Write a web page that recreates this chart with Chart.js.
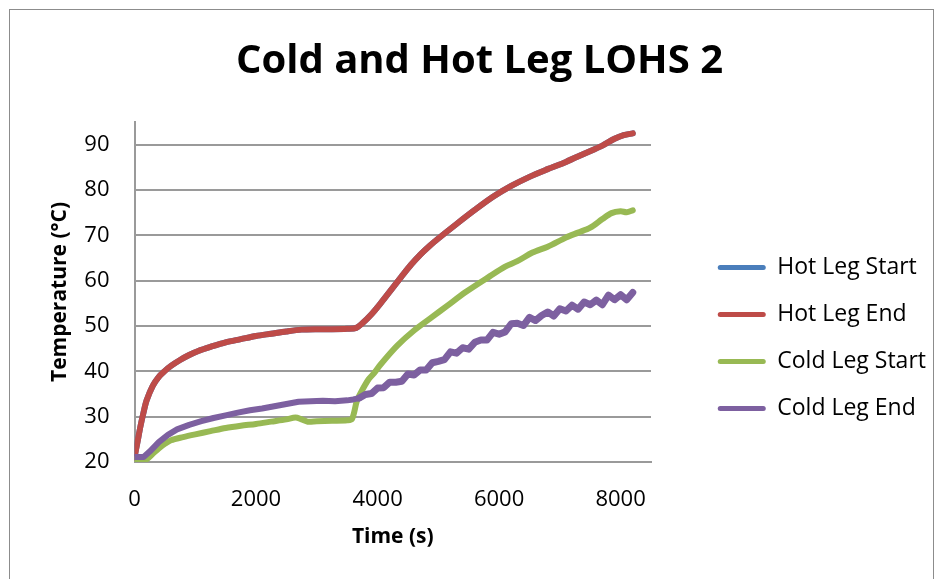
<!DOCTYPE html>
<html>
<head>
<meta charset="utf-8">
<script src="https://cdn.jsdelivr.net/npm/chart.js@4"></script>
<style>
  html, body { margin: 0; padding: 0; background: #fff; overflow: hidden; }
  #frame { position: absolute; left: 9px; top: 9px; width: 923px; height: 640px; border: 1px solid #8c8c8c; }
  #chart { position: absolute; left: 0; top: 0; }
</style>
</head>
<body>
<div id="frame"></div>
<canvas id="chart" width="941" height="579"></canvas>
<script>
// Series names and colours (Excel 2007 palette)
const seriesNames = ['Hot Leg Start', 'Hot Leg End', 'Cold Leg Start', 'Cold Leg End'];
const seriesColors = ['#4a7ebb', '#be4b48', '#98b954', '#7d60a0'];

// Hot leg end (red) - time (s) / temperature (°C)
const hotEndTime = [0, 50, 100, 150, 200, 300, 400, 500, 600, 750, 900, 1050, 1250, 1500, 1750, 2000,
  2250, 2500, 2750, 3000, 3250, 3500, 3650, 3750, 3900, 4050, 4400, 4550, 4700, 4850, 5000, 5300, 5600, 5900,
  6200, 6500, 6800, 7100, 7400, 7700, 7900, 8050, 8200];
const hotEndTemp = [21.0, 24.5, 28.0, 31.0, 33.6, 36.8, 38.8, 40.1, 41.2, 42.5, 43.6, 44.5, 45.4, 46.4, 47.1, 47.8,
  48.3, 48.8, 49.2, 49.3, 49.3, 49.4, 49.6, 50.6, 52.6, 55.0, 61.0, 63.5, 65.7, 67.6, 69.3, 72.5, 75.6, 78.5,
  80.9, 82.9, 84.6, 86.2, 88.0, 89.8, 91.3, 92.1, 92.5];

// Hot leg start (blue) - lies under the red trace
const hotStartTime = [0, 50, 100, 150, 200, 300, 400, 500, 600, 750, 900, 1050, 1250, 1500, 1750, 2000,
  2250, 2500, 2750, 3000, 3250, 3500, 3650, 3750, 3900, 4050, 4400, 4550, 4700, 4850, 5000, 5300, 5600, 5900,
  6200, 6500, 6800, 7100, 7400, 7700, 7900, 8050, 8200];
const hotStartTemp = [21.0, 24.5, 28.0, 31.0, 33.6, 36.8, 38.8, 40.1, 41.2, 42.5, 43.6, 44.5, 45.4, 46.4, 47.1, 47.8,
  48.3, 48.8, 49.2, 49.3, 49.3, 49.4, 49.6, 50.6, 52.6, 55.0, 61.0, 63.5, 65.7, 67.6, 69.3, 72.5, 75.6, 78.5,
  80.9, 82.9, 84.6, 86.2, 88.0, 89.8, 91.3, 92.1, 92.5];

// Cold leg start (green)
const coldStartTime = [0, 100, 200, 300, 400, 500, 600, 800, 1000, 1250, 1500, 1750, 2000, 2250, 2500, 2650,
  2750, 2850, 3000, 3250, 3500, 3580, 3660, 3720, 3850, 3950, 4050, 4320, 4600, 4900, 5150, 5450, 5850,
  6100, 6300, 6550, 6800, 7100, 7300, 7500, 7700, 7850, 8000, 8100, 8200];
const coldStartTemp = [20.6, 20.4, 20.6, 21.8, 23.0, 24.0, 24.8, 25.5, 26.1, 26.8, 27.5, 28.0, 28.4, 28.9, 29.4, 29.8,
  29.4, 28.9, 29.0, 29.1, 29.2, 29.5, 33.5, 35.2, 38.2, 39.7, 41.5, 45.6, 49.0, 52.0, 54.5, 57.5, 61.0,
  63.1, 64.3, 66.2, 67.5, 69.5, 70.6, 71.7, 73.6, 74.9, 75.3, 75.1, 75.5];

// Cold leg end (purple) - noisy after the second heat-up
const coldEndTime = [0, 150, 250, 400, 550, 700, 900, 1100, 1300, 1500, 1700, 1900, 2100, 2300, 2500, 2700,
  2900, 3100, 3300, 3500, 3600,
  3700, 3800, 3900, 4000, 4100, 4200, 4300, 4400, 4500, 4600, 4700, 4800, 4900, 5000, 5100, 5200,
  5300, 5400, 5500, 5600, 5700, 5800, 5900, 6000, 6100, 6200, 6300, 6400, 6500, 6600, 6700, 6800,
  6900, 7000, 7100, 7200, 7300, 7400, 7500, 7600, 7700, 7800, 7900, 8000, 8100, 8200];
const coldEndTemp = [21.1, 21.1, 22.3, 24.4, 26.0, 27.2, 28.2, 29.0, 29.7, 30.3, 30.9, 31.4, 31.8, 32.3, 32.8, 33.3,
  33.4, 33.5, 33.4, 33.6, 33.8,
  34.1, 34.9, 35.1, 36.3, 36.4, 37.6, 37.6, 37.8, 39.4, 39.2, 40.3, 40.3, 41.9, 42.2, 42.6, 44.3,
  44.0, 45.2, 44.9, 46.4, 46.9, 46.9, 48.6, 48.2, 48.7, 50.5, 50.6, 50.1, 51.9, 51.2, 52.3, 53.1,
  52.2, 53.8, 53.3, 54.6, 53.7, 55.3, 54.7, 55.7, 54.7, 56.8, 55.8, 56.9, 55.8, 57.4];

// Axis ranges and tick values
const xMin = 0, xMax = 8500;
const xTicks = [0, 2000, 4000, 6000, 8000];
const yMin = 20, yMax = 95;
const yTicks = [20, 30, 40, 50, 60, 70, 80, 90];

function pairs(ts, vs) {
  return ts.map((t, i) => ({x: t, y: vs[i]}));
}

const seriesData = [
  pairs(hotStartTime, hotStartTemp),
  pairs(hotEndTime, hotEndTemp),
  pairs(coldStartTime, coldStartTemp),
  pairs(coldEndTime, coldEndTemp)
];

const gridColor = '#9a9a9a';
const font = 'Open Sans';
const plotRight = 651;

new Chart(document.getElementById('chart'), {
  type: 'line',
  data: {
    datasets: seriesNames.map((name, i) => ({
      label: name,
      data: seriesData[i],
      borderColor: seriesColors[i],
      backgroundColor: seriesColors[i],
      borderWidth: 6,
      pointRadius: 0,
      tension: i === 3 ? 0 : 0.3,
      borderCapStyle: 'round',
      borderJoinStyle: 'round',
      fill: false,
      order: 4 - i, // later series on top, like Excel
      // the noisy purple trace reads as a slightly thicker band
      segment: i === 3 ? { borderWidth: c => (c.p0.parsed.x >= 3700 ? 7 : 6) } : undefined
    }))
  },
  options: {
    responsive: false,
    animation: false,
    layout: { padding: { left: 23, right: 5, top: 0, bottom: 26 } },
    plugins: {
      title: {
        display: true,
        text: 'Cold and Hot Leg LOHS 2',
        color: '#000',
        font: { family: font, size: 40, weight: 'bold' },
        padding: { top: 38, bottom: 36 }
      },
      legend: {
        position: 'right',
        maxWidth: 320,
        // empty title only pushes the entries down to sit beside the plot
        title: { display: true, text: '', font: { size: 1 }, padding: { top: 122, bottom: 0 } },
        labels: {
          color: '#000',
          font: { family: font, size: 23 },
          boxWidth: 48,
          boxHeight: 5,
          padding: 24,
          sort: (a, b) => a.datasetIndex - b.datasetIndex,
          generateLabels(chart) {
            return Chart.defaults.plugins.legend.labels.generateLabels(chart).map(item => {
              item.fillStyle = seriesColors[item.datasetIndex];
              item.lineWidth = 0;
              item.borderRadius = 2.5;
              return item;
            });
          }
        }
      },
      tooltip: { enabled: false }
    },
    scales: {
      x: {
        type: 'linear',
        min: xMin,
        max: xMax,
        grid: { display: false, drawTicks: false },
        border: { display: true, color: gridColor, width: 2 },
        afterBuildTicks(s) { s.ticks = xTicks.map(v => ({value: v})); },
        ticks: {
          color: '#000',
          padding: 25,
          maxRotation: 0,
          autoSkip: false,
          font: { family: font, size: 22 },
          callback: v => String(v)
        },
        title: {
          display: true,
          text: 'Time (s)',
          color: '#000',
          font: { family: font, size: 21, weight: 'bold' },
          padding: { top: 0, bottom: 3 }
        },
        afterFit(s) { s.height = 91; }
      },
      y: {
        type: 'linear',
        min: yMin,
        max: yMax,
        grid: { color: gridColor, lineWidth: 2, drawTicks: false },
        border: { display: true, color: gridColor, width: 2 },
        afterBuildTicks(s) { s.ticks = yTicks.map(v => ({value: v})); },
        ticks: {
          color: '#000',
          padding: 25,
          autoSkip: false,
          font: { family: font, size: 22 },
          callback: v => String(v)
        },
        title: {
          display: true,
          text: 'Temperature (°C)',
          color: '#000',
          font: { family: font, size: 21, weight: 'bold' },
          padding: { top: 24, bottom: 0 }
        },
        afterFit(s) { s.width = 111.5; }
      },
      // empty spacer between the plot and the legend
      gap: {
        type: 'linear',
        position: 'right',
        display: true,
        grid: { display: false, drawTicks: false },
        border: { display: false },
        ticks: { display: false },
        afterFit(s) { s.width = Math.max(0, s.chart.width - 5 - s.chart.legend.width - plotRight); }
      }
    }
  }
});
</script>
</body>
</html>
